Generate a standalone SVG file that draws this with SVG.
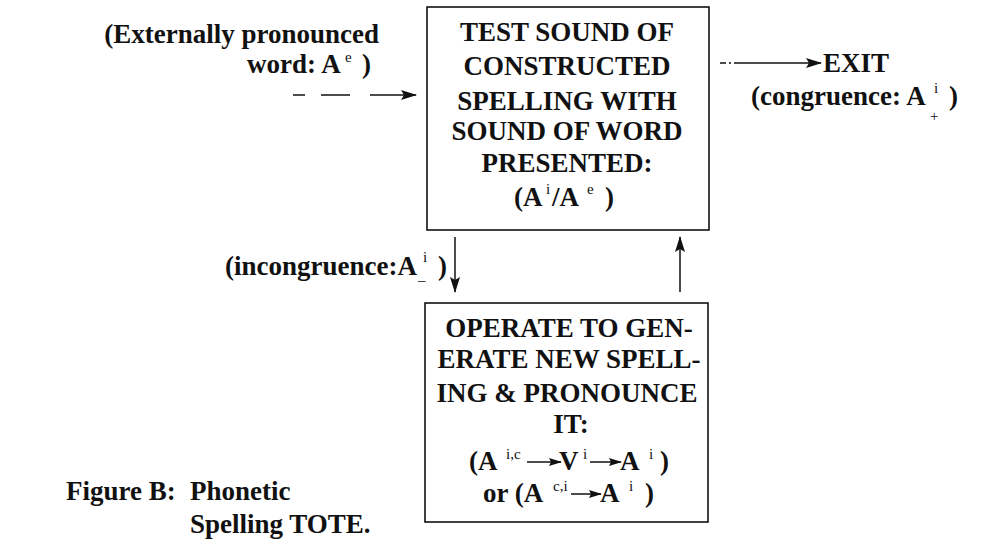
<svg xmlns="http://www.w3.org/2000/svg" width="999" height="553" viewBox="0 0 999 553">
<style>
  text { font-family: "Liberation Serif", "Times New Roman", serif; font-weight: bold; fill: #111; }
  .t { font-size: 27px; }
  .c { text-anchor: middle; }
  .e { text-anchor: end; }
  .sup { font-size: 15px; font-weight: normal; }
  .box { fill: none; stroke: #111; stroke-width: 1.6; }
  .ln { fill: none; stroke: #111; stroke-width: 1.5; }
</style>
<defs>
  <marker id="ah" markerUnits="userSpaceOnUse" markerWidth="16" markerHeight="10" refX="15" refY="5" orient="auto">
    <path d="M0,0 L16,5 L0,10 L3,5 Z" fill="#111"/>
  </marker>
  <marker id="ahs" markerUnits="userSpaceOnUse" markerWidth="13" markerHeight="8" refX="12" refY="4" orient="auto">
    <path d="M0,0 L13,4 L0,8 L2,4 Z" fill="#111"/>
  </marker>
</defs>
<rect width="999" height="553" fill="#fff"/>

<g id="test">
  <rect class="box" x="427" y="7" width="282" height="223"/>
  <text class="t c" x="567" y="41">TEST SOUND OF</text>
  <text class="t c" x="567" y="75">CONSTRUCTED</text>
  <text class="t c" x="567" y="110">SPELLING WITH</text>
  <text class="t c" x="567" y="140">SOUND OF WORD</text>
  <text class="t c" x="567" y="172">PRESENTED:</text>
  <text class="t" x="514" y="206">(A</text>
  <text class="sup" x="546" y="194">i</text>
  <text class="t" x="552" y="206">/A</text>
  <text class="sup" x="587" y="194">e</text>
  <text class="t" x="605" y="206">)</text>
</g>

<g id="operate">
  <rect class="box" x="425" y="303" width="283" height="219"/>
  <text class="t c" x="569" y="337">OPERATE TO GEN-</text>
  <text class="t c" x="569" y="368">ERATE NEW SPELL-</text>
  <text class="t c" x="567" y="402">ING &amp; PRONOUNCE</text>
  <text class="t c" x="571" y="433">IT:</text>
  <text class="t" x="469" y="470">(A</text>
  <text class="sup" x="506" y="459">i,c</text>
  <text class="t" x="559" y="470">V</text>
  <text class="sup" x="583" y="459">i</text>
  <text class="t" x="620" y="470">A</text>
  <text class="sup" x="649" y="459">i</text>
  <text class="t" x="660" y="470">)</text>
  <text class="t" x="483" y="502">or (A</text>
  <text class="sup" x="553" y="491">c,i</text>
  <text class="t" x="600" y="502">A</text>
  <text class="sup" x="629" y="491">i</text>
  <text class="t" x="645" y="502">)</text>
  <line class="ln" x1="527" y1="462" x2="561" y2="462" marker-end="url(#ahs)"/>
  <line class="ln" x1="590" y1="462" x2="621" y2="462" marker-end="url(#ahs)"/>
  <line class="ln" x1="571" y1="494" x2="601" y2="494" marker-end="url(#ahs)"/>
</g>

<g id="input-label">
  <text class="t e" x="379" y="43">(Externally pronounced</text>
  <text class="t" x="247" y="73">word: A</text>
  <text class="sup" x="345" y="62">e</text>
  <text class="t" x="362" y="73">)</text>
</g>

<g id="exit">
  <text class="t" x="823" y="72">EXIT</text>
  <text class="t" x="751" y="105">(congruence: A</text>
  <text class="sup" x="934" y="93">i</text>
  <text class="sup" x="930" y="121">+</text>
  <text class="t" x="949" y="105">)</text>
</g>

<g id="incongruence-label">
  <text class="t" x="225" y="275">(incongruence:A</text>
  <text class="sup" x="423" y="262">i</text>
  <text class="sup" x="418" y="280">_</text>
  <text class="t" x="438" y="275">)</text>
</g>

<g id="caption">
  <text class="t" x="66" y="500">Figure B:</text>
  <text class="t" x="190" y="500">Phonetic</text>
  <text class="t" x="190" y="533">Spelling TOTE.</text>
</g>

<g id="connectors">
  <line class="ln" x1="293" y1="95" x2="416" y2="95" stroke-dasharray="12 16 29 20 100" marker-end="url(#ah)"/>
  <line class="ln" x1="720" y1="63" x2="821" y2="63" stroke-dasharray="6 3 2 3 200" marker-end="url(#ah)"/>
  <line class="ln" x1="455" y1="237" x2="455" y2="292" marker-end="url(#ah)"/>
  <line class="ln" x1="680" y1="292" x2="680" y2="237" marker-end="url(#ah)"/>
</g>
</svg>
